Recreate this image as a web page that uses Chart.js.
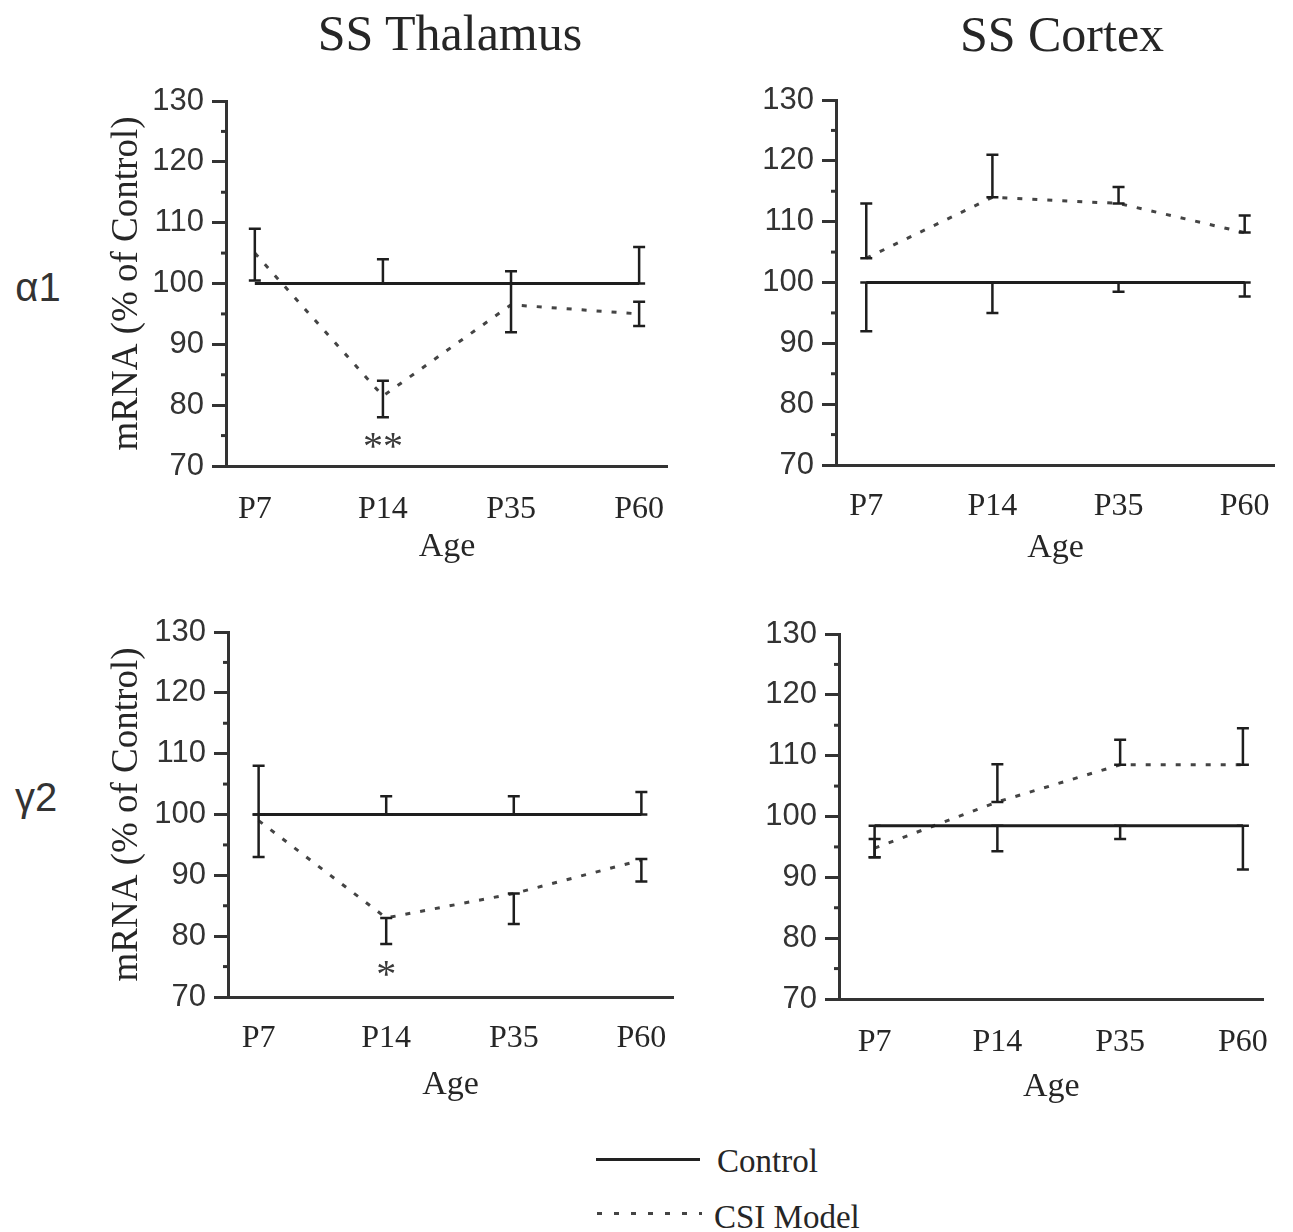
<!DOCTYPE html>
<html>
<head>
<meta charset="utf-8">
<script src="https://cdn.jsdelivr.net/npm/chart.js@4.4.1/dist/chart.umd.min.js"></script>
<style>
  body { margin: 0; background: #fff; }
  #page { position: relative; width: 1293px; height: 1232px; overflow: hidden; background: #fff; }
  #page canvas { position: absolute; }
  .txt { position: absolute; white-space: nowrap; color: #262626; line-height: 1; }
  .title { font-family: "Liberation Serif", serif; font-size: 50px; transform: translate(-50%, -50%); }
  .row { font-family: "Liberation Sans", sans-serif; font-size: 40px; color: #333; transform: translate(-50%, -50%); }
  .legtxt { font-family: "Liberation Serif", serif; font-size: 33px; transform: translateY(-50%); }
  .legline { position: absolute; height: 3px; }
</style>
</head>
<body>
<div id="page">
  <div class="txt title" style="left:450px; top:33px;">SS Thalamus</div>
  <div class="txt title" style="left:1062px; top:34px;">SS Cortex</div>
  <div class="txt row" style="left:38px; top:287px;">α1</div>
  <div class="txt row" style="left:36px; top:797px;">γ2</div>

  <div class="legline" style="left:596px; top:1158px; width:104px; background:#222;"></div>
  <div class="txt legtxt" style="left:717px; top:1161px;">Control</div>
  <div class="legline" style="left:597px; top:1212px; width:105px; background:repeating-linear-gradient(to right, #444 0 5px, transparent 5px 17px);"></div>
  <div class="txt legtxt" style="left:714px; top:1217px;">CSI Model</div>

  <canvas id="tl"></canvas>
  <canvas id="tr"></canvas>
  <canvas id="bl"></canvas>
  <canvas id="br"></canvas>
</div>

<script>
// age groups on the x axis
const ages = ['P7', 'P14', 'P35', 'P60'];

// alpha1, SS thalamus
const a1ThalControl     = [100, 100, 100, 100];
const a1ThalControlUp   = [0, 4, 0, 6];
const a1ThalControlDown = [0, 0, 0, 0];
const a1ThalCsi         = [105, 81.5, 96.5, 95];
const a1ThalCsiUp       = [4, 2.5, 5.5, 2];
const a1ThalCsiDown     = [4.5, 3.5, 4.5, 2];
const a1ThalSig         = ['', '**', '', ''];

// alpha1, SS cortex
const a1CortControl     = [100, 100, 100, 100];
const a1CortControlUp   = [0, 0, 0, 0];
const a1CortControlDown = [8, 5, 1.5, 2.3];
const a1CortCsi         = [104, 114, 113, 108.2];
const a1CortCsiUp       = [9, 7, 2.7, 2.8];
const a1CortCsiDown     = [0, 0, 0, 0];
const a1CortSig         = ['', '', '', ''];

// gamma2, SS thalamus
const g2ThalControl     = [100, 100, 100, 100];
const g2ThalControlUp   = [8, 3, 3, 3.7];
const g2ThalControlDown = [0, 0, 0, 0];
const g2ThalCsi         = [99, 83, 87, 92.5];
const g2ThalCsiUp       = [1, 0, 0, 0.2];
const g2ThalCsiDown     = [6, 4.3, 5, 3.5];
const g2ThalSig         = ['', '*', '', ''];

// gamma2, SS cortex
const g2CortControl     = [98.5, 98.5, 98.5, 98.5];
const g2CortControlUp   = [0, 0, 0, 0];
const g2CortControlDown = [5.2, 4.2, 2.2, 7.2];
const g2CortCsi         = [94.8, 102.4, 108.5, 108.5];
const g2CortCsiUp       = [1.5, 6.2, 4.1, 6];
const g2CortCsiDown     = [1.5, 0, 0, 0];
const g2CortSig         = ['', '', '', ''];

const yMin = 70, yMax = 130;
const yTitle = 'mRNA (% of Control)';
const xTitle = 'Age';

const INK = '#262626';
const AXIS = '#333333';
const SERIF = '"Liberation Serif", "Times New Roman", serif';
const SANS = '"Liberation Sans", Arial, sans-serif';

// page placement of each panel: canvas box and wanted plot area (page px)
const panels = [
    { id: 'tl', box: [90, 60, 600, 520], area: [226, 101, 672, 466], xRange: [-0.225, 3.225], labelGap: 44, titleGap: 81, showYTitle: true,
      control: a1ThalControl, controlUp: a1ThalControlUp, controlDown: a1ThalControlDown,
      csi: a1ThalCsi, csiUp: a1ThalCsiUp, csiDown: a1ThalCsiDown, sig: a1ThalSig, sigY: 74.3 },
    { id: 'tr', box: [740, 60, 553, 520], area: [836, 100, 1284, 465], xRange: [-0.24, 3.24], labelGap: 42, titleGap: 83, showYTitle: false,
      control: a1CortControl, controlUp: a1CortControlUp, controlDown: a1CortControlDown,
      csi: a1CortCsi, csiUp: a1CortCsiUp, csiDown: a1CortCsiDown, sig: a1CortSig, sigY: 74 },
    { id: 'bl', box: [90, 590, 600, 540], area: [228, 632, 677, 997], xRange: [-0.24, 3.25], labelGap: 42, titleGap: 88, showYTitle: true,
      control: g2ThalControl, controlUp: g2ThalControlUp, controlDown: g2ThalControlDown,
      csi: g2ThalCsi, csiUp: g2ThalCsiUp, csiDown: g2ThalCsiDown, sig: g2ThalSig, sigY: 74.9 },
    { id: 'br', box: [740, 590, 553, 540], area: [839, 634, 1285, 999], xRange: [-0.29, 3.17], labelGap: 44, titleGap: 88, showYTitle: false,
      control: g2CortControl, controlUp: g2CortControlUp, controlDown: g2CortControlDown,
      csi: g2CortCsi, csiUp: g2CortCsiUp, csiDown: g2CortCsiDown, sig: g2CortSig, sigY: 74 }
];

// error bars, minor y ticks and significance stars
const extrasPlugin = {
    id: 'extras',
    afterDatasetsDraw(chart, args, opts) {
        const ctx = chart.ctx;
        const xs = chart.scales.x, ys = chart.scales.y;
        const area = chart.chartArea;
        ctx.save();

        // minor ticks every 5
        ctx.strokeStyle = AXIS;
        ctx.lineWidth = 3;
        for (let v = yMin + 5; v < yMax; v += 10) {
            const py = ys.getPixelForValue(v);
            ctx.beginPath();
            ctx.moveTo(area.left - 5, py);
            ctx.lineTo(area.left, py);
            ctx.stroke();
        }

        // error bars
        ctx.strokeStyle = '#1e1e1e';
        ctx.lineWidth = 2.5;
        chart.data.datasets.forEach(ds => {
            ds.data.forEach((pt, i) => {
                const up = ds.errUp[i], down = ds.errDown[i];
                if (!up && !down) return;
                const px = xs.getPixelForValue(pt.x);
                const top = ys.getPixelForValue(pt.y + up);
                const bot = ys.getPixelForValue(pt.y - down);
                ctx.beginPath();
                ctx.moveTo(px, top); ctx.lineTo(px, bot);
                ctx.moveTo(px - 6, top); ctx.lineTo(px + 6, top);
                ctx.moveTo(px - 6, bot); ctx.lineTo(px + 6, bot);
                ctx.stroke();
            });
        });

        // significance marks
        ctx.fillStyle = '#3a3a3a';
        ctx.font = '40px ' + SERIF;
        ctx.textAlign = 'center';
        ctx.textBaseline = 'middle';
        opts.sig.forEach((s, i) => {
            if (!s) return;
            ctx.fillText(s, xs.getPixelForValue(i), ys.getPixelForValue(opts.sigY) + 9);
        });
        ctx.restore();
    }
};

function makePanel(p) {
    const canvas = document.getElementById(p.id);
    const [bl, bt, bw, bh] = p.box;
    canvas.width = bw;
    canvas.height = bh;
    canvas.style.left = bl + 'px';
    canvas.style.top = bt + 'px';

    const [al, at, ar, ab] = p.area;
    const yTitleFont = 37, tickFont = 32, xTitleFont = 34;
    const yWidth = al - bl;
    const xHeight = p.titleGap + xTitleFont * 1.2 / 2;

    const toPoints = vals => vals.map((y, i) => ({ x: i, y }));

    new Chart(canvas, {
        type: 'line',
        data: {
            datasets: [
                {
                    label: 'Control',
                    data: toPoints(p.control),
                    errUp: p.controlUp, errDown: p.controlDown,
                    borderColor: '#1e1e1e', borderWidth: 3,
                    pointRadius: 0, tension: 0
                },
                {
                    label: 'CSI Model',
                    data: toPoints(p.csi),
                    errUp: p.csiUp, errDown: p.csiDown,
                    borderColor: '#444', borderWidth: 3, borderDash: [5, 10],
                    pointRadius: 0, tension: 0
                }
            ]
        },
        options: {
            responsive: false,
            animation: false,
            layout: { padding: { left: 0, top: at - bt, right: bl + bw - ar, bottom: bt + bh - ab - xHeight } },
            plugins: {
                legend: { display: false },
                tooltip: { enabled: false },
                extras: { sig: p.sig, sigY: p.sigY }
            },
            scales: {
                x: {
                    type: 'linear',
                    min: p.xRange[0],
                    max: p.xRange[1],
                    afterBuildTicks: scale => { scale.ticks = ages.map((_, i) => ({ value: i })); },
                    afterFit: scale => { scale.height = xHeight; },
                    grid: { display: false, drawTicks: false },
                    border: { display: true, color: AXIS, width: 3 },
                    ticks: {
                        autoSkip: false,
                        maxRotation: 0,
                        padding: p.labelGap - tickFont * 1.2 / 2,
                        color: INK,
                        font: { family: SERIF, size: tickFont },
                        callback: v => ages[v] ?? ''
                    },
                    title: {
                        display: true,
                        text: xTitle,
                        color: INK,
                        padding: { top: 0, bottom: 0 },
                        font: { family: SERIF, size: xTitleFont }
                    }
                },
                y: {
                    min: yMin,
                    max: yMax,
                    afterFit: scale => { scale.width = yWidth; },
                    grid: {
                        drawOnChartArea: false,
                        drawTicks: true,
                        tickLength: 14,
                        tickWidth: 3,
                        tickColor: c => (c.tick && c.tick.value % 10 === 0) ? AXIS : 'rgba(0,0,0,0)'
                    },
                    border: { display: true, color: AXIS, width: 3 },
                    ticks: {
                        stepSize: 10,
                        padding: 8,
                        color: '#333',
                        font: { family: SANS, size: 31 }
                    },
                    title: {
                        display: p.showYTitle,
                        text: yTitle,
                        color: INK,
                        padding: { top: 127 - bl - yTitleFont * 1.2 / 2, bottom: 0 },
                        font: { family: SERIF, size: yTitleFont }
                    }
                }
            }
        },
        plugins: [extrasPlugin]
    });
}

panels.forEach(makePanel);
</script>
</body>
</html>
